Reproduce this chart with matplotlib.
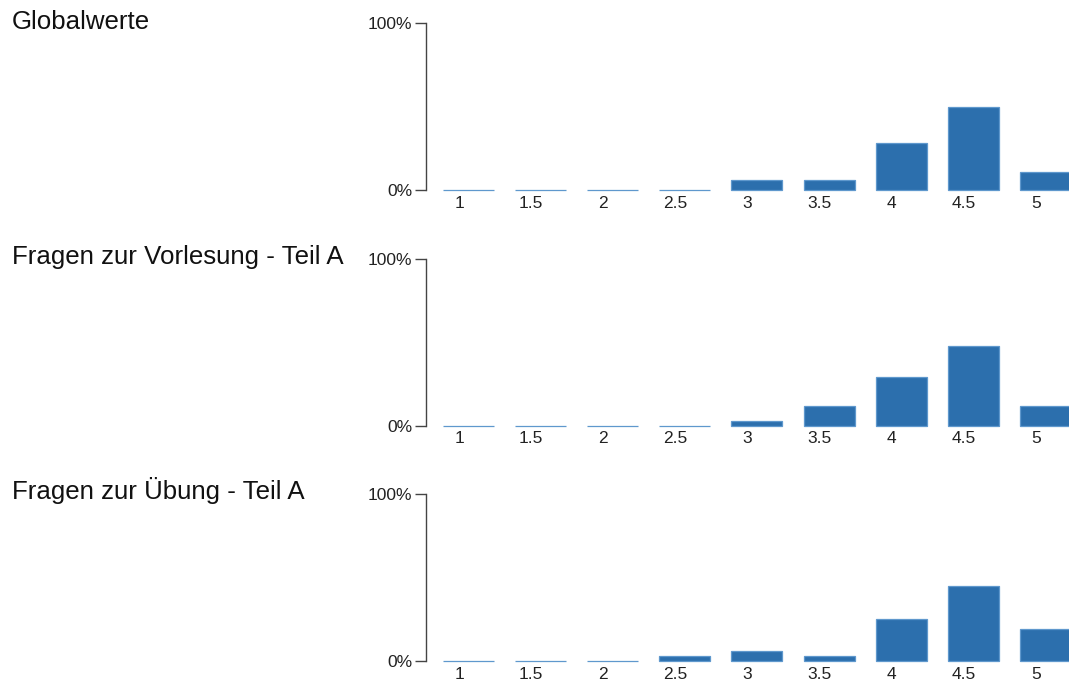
import numpy as np
import matplotlib
matplotlib.use("Agg")
import matplotlib.pyplot as plt

plt.rcParams['font.family'] = ['Liberation Sans', 'DejaVu Sans']

# Antwortstufen und Anteile (in %) je Fragenblock
stufen = ["1", "1.5", "2", "2.5", "3", "3.5", "4", "4.5", "5"]
titel = ["Globalwerte", "Fragen zur Vorlesung - Teil A", "Fragen zur Übung - Teil A"]
globalwerte = [0, 0, 0, 0, 6, 6, 28, 50, 11]
vorlesung_a = [0, 0, 0, 0, 3, 12, 29, 48, 12]
uebung_a = [0, 0, 0, 3, 6, 3, 25, 45, 19]

BAR_COLOR = "#2c6fad"
EDGE_COLOR = "#5f98cd"
W, H = 1069, 682

fig = plt.figure(figsize=(W / 100, H / 100), dpi=100)

panels = [
    (titel[0], globalwerte, 190.0, 29.0),
    (titel[1], vorlesung_a, 425.7, 264.0),
    (titel[2], uebung_a, 661.0, 499.0),
]

ax_left = 426
ax_height = 167
step = 72.1          # Abstand der Balken in Pixel
first_center = 468.5
bar_w = 51 / step

x = np.arange(len(stufen))

for name, werte, y0, y_title in panels:
    ax = fig.add_axes([ax_left / W, (H - y0) / H, (W - ax_left) / W, ax_height / H])
    # Balken mit 0 % bleiben als dünne Linie sichtbar
    ax.bar(x, werte, width=bar_w, color=BAR_COLOR, edgecolor=EDGE_COLOR,
           linewidth=0.9, clip_on=False)

    ax.set_xlim((ax_left - first_center) / step, (W - first_center) / step)
    ax.set_ylim(0, 100)

    for side in ["top", "right", "bottom"]:
        ax.spines[side].set_visible(False)
    ax.spines["left"].set_color("#444444")
    ax.spines["left"].set_linewidth(1.0)

    ax.set_yticks([0, 100])
    ax.set_yticklabels(["0%", "100%"])
    ax.tick_params(axis="y", length=8, width=1.0, color="#444444", pad=2,
                   labelsize=12.5, labelcolor="#222222")

    # Beschriftungen leicht links der Balkenmitte
    ax.set_xticks(x - 9.5 / step)
    ax.set_xticklabels(stufen)
    ax.tick_params(axis="x", length=0, pad=4, labelsize=12.5, labelcolor="#222222")

    fig.text(11.5 / W, (H - y_title) / H, name, fontsize=18.6, color="#111111",
             ha="left", va="baseline")

fig.savefig("out.png", dpi=100, facecolor="white")
